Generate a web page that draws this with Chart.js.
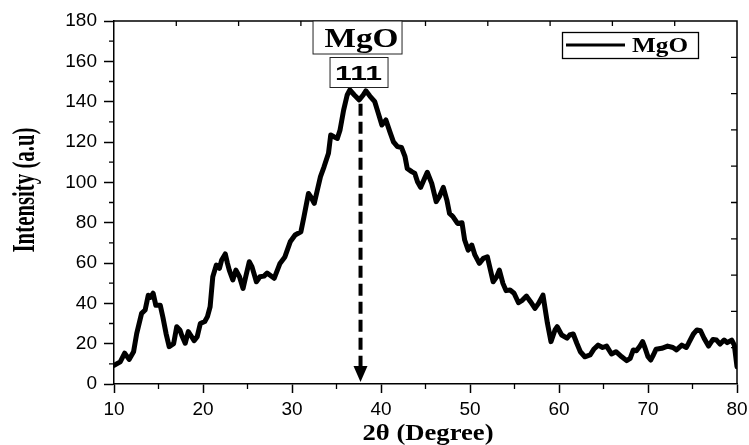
<!DOCTYPE html>
<html>
<head>
<meta charset="utf-8">
<script src="https://cdn.jsdelivr.net/npm/chart.js@4.4.1/dist/chart.umd.min.js"></script>
<style>
html,body{margin:0;padding:0;background:#fff;}
#wrap{width:749px;height:445px;}
</style>
</head>
<body>
<div id="wrap"><canvas id="c" width="749" height="445"></canvas></div>
<script>
// ---- data ----
const twoTheta = [
  10.0, 10.7, 11.2, 11.7, 12.2, 12.55, 13.1, 13.5, 13.85, 14.1, 14.4, 14.7, 15.2, 15.5, 15.85,
  16.2, 16.7, 17.05, 17.4, 17.6, 18.0, 18.35, 18.6, 19.0, 19.35, 19.7, 20.2, 20.5, 20.8, 21.1,
  21.5, 21.85, 22.1, 22.5, 22.75, 22.95, 23.35, 23.7, 24.1, 24.5, 24.8, 25.2, 25.5, 26.0, 26.4,
  26.85, 27.2, 28.0, 28.65, 29.2, 29.8, 30.35, 31.0, 31.35, 31.85, 32.1, 32.5, 32.85, 33.2, 33.6,
  34.1, 34.35, 34.7, 35.1, 35.4, 35.8, 36.2, 36.5, 37.0, 37.55, 38.0, 38.3, 38.75, 39.3, 39.7,
  40.1, 40.55, 41.0, 41.4, 41.85, 42.3, 42.7, 42.95, 43.45, 43.8, 44.1, 44.45, 45.2, 45.7, 46.2,
  46.55, 47.0, 47.4, 47.7, 48.1, 48.6, 49.1, 49.4, 49.8, 50.2, 50.55, 51.05, 51.5, 51.95, 52.3,
  52.6, 53.0, 53.3, 53.7, 54.05, 54.5, 54.95, 55.45, 55.9, 56.35, 56.8, 57.3, 57.7, 58.2, 58.7,
  59.1, 59.55, 59.8, 60.3, 60.9, 61.2, 61.6, 62.0, 62.4, 62.9, 63.5, 63.9, 64.4, 64.9, 65.35,
  65.9, 66.4, 67.05, 67.6, 68.0, 68.35, 68.7, 69.1, 69.4, 69.65, 70.0, 70.3, 70.6, 70.9, 71.55,
  72.2, 72.8, 73.2, 73.8, 74.3, 74.55, 75.1, 75.5, 75.9, 76.3, 76.8, 77.3, 77.7, 78.1, 78.55,
  78.9, 79.4, 79.7, 80.0
];
const intensity = [
  9.2, 11, 15.3, 12.2, 16, 25, 35, 36.7, 44, 43, 45, 39, 39, 33, 25,
  18.5, 20, 28.4, 26.8, 24.3, 20.2, 26, 24.3, 21.5, 23.5, 30, 31, 33.4, 38.3, 53.2,
  59, 57.4, 61.5, 64.5, 59.8, 56.5, 51.6, 56.5, 53.2, 47.4, 53.2, 60.6, 58.2, 50.7, 53.2,
  53.5, 55, 52.4, 59.8, 63, 70.5, 73.9, 75.5, 83, 94.5, 92.9, 89.6, 96.2, 102.8, 107.7,
  114.4, 123.5, 122.6, 121.8, 126, 135.8, 143.3, 145.8, 143.3, 140.9, 143.3, 145.4, 142.8, 140, 134.2,
  128.4, 130.9, 125, 120.1, 117.7, 117.3, 112.7, 106.9, 105.3, 104.4, 100.3, 97.5, 105, 99.5, 90.4,
  92.9, 97.5, 91.2, 84.6, 82.9, 79.6, 80, 71.4, 66.4, 68.9, 64, 59.8, 62.3, 63.1, 56.5,
  50.7, 53.2, 56.5, 49.9, 46.3, 46.6, 45, 40.3, 41.6, 43.6, 40.8, 37.5, 40, 44.1, 30.1,
  21, 26.8, 28.4, 24.3, 22.7, 24.3, 24.8, 20.2, 16, 13.5, 14.4, 17.2, 19.3, 18.1, 18.8,
  14.9, 16, 13.5, 11.6, 12.7, 16.9, 16.5, 18.8, 21, 18.1, 13.5, 11.9, 14.4, 17.2, 17.7,
  18.8, 18.1, 16.9, 19.3, 18.1, 20.1, 24.8, 26.8, 26.4, 22.7, 18.8, 22.1, 21.8, 19.8, 21.8,
  20.5, 21.8, 19.3, 8.6
];
const xTicks = [10, 20, 30, 40, 50, 60, 70, 80];
const xMinorTicks = [15, 25, 35, 45, 55, 65, 75];
const yTicks = [0, 20, 40, 60, 80, 100, 120, 140, 160, 180];
const yMinorTicks = [10, 30, 50, 70, 90, 110, 130, 150, 170];
const seriesLabel = 'MgO';
const xTitle = '2θ (Degree)';
const yTitle = 'Intensity (a.u)';
const peakPosition = 37.7;     // 2θ of the marked reflection
const peakArrowTop = 139;      // intensity where the dashed marker starts
const peakPhase = 'MgO';
const peakPlane = '111';

const points = twoTheta.map((t, i) => ({ x: t, y: intensity[i] }));

function fitText(ctx, text, font, cx, baseline, targetW) {
  ctx.save();
  ctx.font = font;
  const w = ctx.measureText(text).width;
  ctx.translate(cx, baseline);
  ctx.scale(targetW / w, 1);
  ctx.textAlign = 'center';
  ctx.textBaseline = 'alphabetic';
  ctx.fillText(text, 0, 0);
  ctx.restore();
}

const decorPlugin = {
  id: 'decor',
  afterDraw(chart) {
    const ctx = chart.ctx;
    const a = chart.chartArea;
    const xs = chart.scales.x, ys = chart.scales.y;
    ctx.save();
    ctx.strokeStyle = '#000';
    ctx.fillStyle = '#000';

    // frame top and right
    ctx.lineWidth = 1.5;
    ctx.beginPath();
    ctx.moveTo(a.left, a.top); ctx.lineTo(a.right, a.top); ctx.lineTo(a.right, a.bottom);
    ctx.stroke();

    // inward ticks on top and right (10 divisions)
    ctx.lineWidth = 1.3;
    ctx.beginPath();
    for (let k = 1; k < 10; k++) {
      const px = a.left + (a.right - a.left) * k / 10;
      ctx.moveTo(px, a.top); ctx.lineTo(px, a.top + 5);
      const py = a.bottom - (a.bottom - a.top) * k / 10;
      ctx.moveTo(a.right, py); ctx.lineTo(a.right - 6, py);
    }
    ctx.stroke();

    // minor ticks
    ctx.beginPath();
    xMinorTicks.forEach(v => {
      const px = xs.getPixelForValue(v);
      ctx.moveTo(px, a.bottom); ctx.lineTo(px, a.bottom + 5);
    });
    yMinorTicks.forEach(v => {
      const py = ys.getPixelForValue(v);
      ctx.moveTo(a.left, py); ctx.lineTo(a.left - 5, py);
    });
    ctx.stroke();

    // axis titles
    ctx.fillStyle = '#000';
    fitText(ctx, xTitle, 'bold 23px "Liberation Serif"', 428, 440, 131);
    ctx.save();
    ctx.translate(34, 190);
    ctx.rotate(-Math.PI / 2);
    fitText(ctx, yTitle, 'bold 31px "Liberation Serif"', 0, 0, 125);
    ctx.restore();

    // legend
    ctx.lineWidth = 1.3;
    ctx.strokeRect(562.5, 32.5, 136, 26);
    ctx.lineWidth = 3;
    ctx.beginPath(); ctx.moveTo(566, 45); ctx.lineTo(625, 45); ctx.stroke();
    fitText(ctx, chart.data.datasets[0].label, 'bold 20px "Liberation Serif"', 660, 52, 56);

    // peak marker
    const px = xs.getPixelForValue(peakPosition);
    const yTop = ys.getPixelForValue(peakArrowTop);
    const yTip = ys.getPixelForValue(0);
    ctx.lineWidth = 4;
    ctx.setLineDash([12, 6]);
    ctx.beginPath(); ctx.moveTo(px, yTop); ctx.lineTo(px, yTip - 16); ctx.stroke();
    ctx.setLineDash([]);
    ctx.beginPath();
    ctx.moveTo(px - 7, yTip - 18); ctx.lineTo(px + 7, yTip - 18); ctx.lineTo(px, yTip - 2);
    ctx.closePath(); ctx.fill();

    // annotation boxes
    ctx.lineWidth = 1;
    ctx.strokeStyle = '#222';
    ctx.fillStyle = '#fff';
    ctx.fillRect(px - 47.5, a.top, 89, 33);
    ctx.strokeRect(px - 47.5, a.top, 89, 33);
    ctx.fillRect(px - 30.5, 57.5, 58, 30);
    ctx.strokeRect(px - 30.5, 57.5, 58, 30);
    ctx.fillStyle = '#000';
    fitText(ctx, peakPhase, 'bold 27px "Liberation Serif"', px + 1, 47, 74);
    fitText(ctx, peakPlane, 'bold 21px "Liberation Sans", Arial, sans-serif', px - 2, 80, 47);
    ctx.restore();
  }
};

new Chart(document.getElementById('c'), {
  type: 'line',
  data: {
    datasets: [{
      label: seriesLabel,
      data: points,
      borderColor: '#000',
      borderWidth: 5,
      pointRadius: 0,
      tension: 0,
      borderJoinStyle: 'round',
      borderCapStyle: 'round',
      fill: false
    }]
  },
  options: {
    responsive: false,
    devicePixelRatio: 1,
    animation: false,
    layout: { padding: { top: 21, right: 12, left: 0, bottom: 0 } },
    plugins: { legend: { display: false }, tooltip: { enabled: false } },
    scales: {
      x: {
        type: 'linear', position: 'bottom', min: 10, max: 80,
        afterBuildTicks: s => { s.ticks = xTicks.map(v => ({ value: v })); },
        afterFit: s => { s.height = 61; s.paddingLeft = 0; s.paddingRight = 0; },
        ticks: { color: '#000', font: { family: 'Liberation Sans', size: 19 }, padding: 5, maxRotation: 0, autoSkip: false },
        grid: { drawOnChartArea: false, drawTicks: true, tickLength: 9, tickColor: '#000', tickWidth: 1.5 },
        border: { display: true, color: '#000', width: 1.5 }
      },
      y: {
        type: 'linear', position: 'left', min: 0, max: 180,
        afterBuildTicks: s => { s.ticks = yTicks.map(v => ({ value: v })); },
        afterFit: s => { s.width = 114; s.paddingTop = 0; s.paddingBottom = 0; },
        ticks: { color: '#000', font: { family: 'Liberation Sans', size: 19 }, padding: 7 },
        grid: { drawOnChartArea: false, drawTicks: true, tickLength: 10, tickColor: '#000', tickWidth: 1.5 },
        border: { display: true, color: '#000', width: 1.5 }
      }
    }
  },
  plugins: [decorPlugin]
});
</script>
</body>
</html>
